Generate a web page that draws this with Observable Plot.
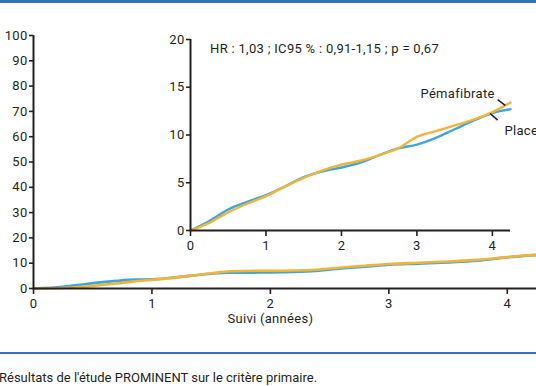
<!DOCTYPE html>
<html>
<head>
<meta charset="utf-8">
<script src="https://cdn.jsdelivr.net/npm/d3@7"></script>
<script src="https://cdn.jsdelivr.net/npm/@observablehq/plot@0.6"></script>
<style>
  html, body { margin: 0; padding: 0; background: #fff; }
  body { width: 536px; height: 386px; overflow: hidden; position: relative; font-family: Roboto, "DejaVu Sans", sans-serif; color: #231f20; }
  .rule { position: absolute; left: 0; width: 536px; height: 2px; background: #3470b8; }
  #main, #inset { position: absolute; left: 0; top: 0; }
  #caption { position: absolute; left: -1px; top: 370px; font-size: 13px; white-space: nowrap; }
</style>
</head>
<body>
<div class="rule" style="top:0px;height:3px"></div>
<div id="main"></div>
<div id="inset"></div>
<div class="rule" style="top:352px"></div>
<div id="caption">Résultats de l'étude PROMINENT sur le critère primaire.</div>
<script>
// Main chart (0–100 %)
const mainYears   = [0, 0.25, 0.45, 0.7, 0.85, 1.0, 1.3, 1.5, 1.66, 1.9, 2.1, 2.35, 2.6, 2.8, 3.0, 3.25, 3.5, 3.75, 4.0, 4.24, 4.4];
const mainPlacebo = [0, 0.7, 1.8, 3.0, 3.5, 3.6, 4.9, 5.8, 6.2, 6.3, 6.4, 6.8, 7.9, 8.6, 9.4, 9.8, 10.3, 11.0, 12.3, 13.2, 13.4];
const mainPema    = [0, 0.2, 0.8, 2.0, 2.8, 3.4, 4.9, 6.0, 6.8, 7.0, 7.0, 7.3, 8.3, 9.0, 9.7, 10.2, 10.7, 11.3, 12.4, 13.3, 13.5];
const mainYTicks  = [0, 10, 20, 30, 40, 50, 60, 70, 80, 90, 100];
const mainXTicks  = [0, 1, 2, 3, 4];

// Inset (0–20 %)
const insetYears   = [0, 0.25, 0.5, 0.75, 1.0, 1.25, 1.5, 1.75, 2.0, 2.25, 2.5, 2.75, 3.0, 3.25, 3.5, 3.75, 4.0, 4.24];
const insetPlacebo = [0, 1.0, 2.2, 3.0, 3.7, 4.6, 5.6, 6.2, 6.6, 7.1, 7.9, 8.6, 9.0, 9.7, 10.6, 11.5, 12.3, 12.7];
const insetPema    = [0, 0.8, 1.9, 2.8, 3.6, 4.6, 5.5, 6.3, 6.9, 7.3, 7.9, 8.6, 9.8, 10.4, 11.0, 11.6, 12.4, 13.4];
const insetYTicks  = [0, 5, 10, 15, 20];
const insetXTicks  = [0, 1, 2, 3, 4];

const statsText = "HR : 1,03 ; IC95 % : 0,91-1,15 ; p = 0,67";
const xLabel = "Suivi (années)";
const seriesNames = ["Placebo", "Pémafibrate"];

const BLUE = "#3fa6dc", YELLOW = "#f1b43a", INK = "#231f20";
const FONT = "Roboto, 'DejaVu Sans', sans-serif";

const mainData = mainYears.flatMap((t, i) => [
  {t, v: mainPlacebo[i], s: seriesNames[0]},
  {t, v: mainPema[i], s: seriesNames[1]}
]);
const insetData = insetYears.flatMap((t, i) => [
  {t, v: insetPlacebo[i], s: seriesNames[0]},
  {t, v: insetPema[i], s: seriesNames[1]}
]);

const colorScale = {domain: seriesNames, range: [BLUE, YELLOW]};
const baseStyle = {background: "transparent", maxWidth: "none", fontFamily: FONT, fontSize: "13px", color: INK, overflow: "visible", letterSpacing: "0.3px"};

const main = Plot.plot({
  width: 566, height: 340,
  marginLeft: 33, marginRight: 0, marginTop: 35, marginBottom: 52,
  style: baseStyle,
  x: {domain: [0, 4.5]},
  y: {domain: [0, 100]},
  color: colorScale,
  marks: [
    Plot.line(mainData, {x: "t", y: "v", stroke: "s", z: "s", strokeWidth: 2.6, curve: "monotone-x"}),
    Plot.ruleY([0], {stroke: INK, strokeWidth: 2}),
    Plot.ruleX([0], {y1: 0, y2: 100, stroke: INK, strokeWidth: 2}),
    Plot.axisY({ticks: mainYTicks, tickFormat: "d", tickSize: 4, tickPadding: 2, strokeWidth: 1.6, label: null, fill: INK}),
    Plot.axisX({ticks: mainXTicks, tickFormat: "d", tickSize: 6, tickPadding: 4, strokeWidth: 1.6, label: null, fill: INK}),
    Plot.text([xLabel], {x: 2.0, frameAnchor: "bottom", dy: 34, fill: INK, fontSize: 13})
  ]
});
document.getElementById("main").appendChild(main);

const inset = Plot.plot({
  width: 536, height: 262,
  marginLeft: 190, marginRight: 26, marginTop: 39, marginBottom: 32,
  style: baseStyle,
  x: {domain: [0, 4.24]},
  y: {domain: [0, 20]},
  color: colorScale,
  marks: [
    Plot.line(insetData, {x: "t", y: "v", stroke: "s", z: "s", strokeWidth: 2.4, curve: "monotone-x"}),
    Plot.ruleY([0], {stroke: INK, strokeWidth: 2}),
    Plot.ruleX([0], {y1: 0, y2: 20, stroke: INK, strokeWidth: 2}),
    Plot.axisY({ticks: insetYTicks, tickFormat: "d", tickSize: 4, tickPadding: 2, strokeWidth: 1.6, label: null, fill: INK}),
    Plot.axisX({ticks: insetXTicks, tickFormat: "d", tickSize: 6, tickPadding: 4, strokeWidth: 1.6, label: null, fill: INK}),
    Plot.text([statsText], {x: 0.26, y: 19.0, textAnchor: "start", fill: INK, fontSize: 13}),
    Plot.text([seriesNames[1]], {x: 4.03, y: 14.35, textAnchor: "end", fill: INK, fontSize: 13}),
    Plot.text([seriesNames[0]], {x: 4.16, y: 10.4, textAnchor: "start", fill: INK, fontSize: 13}),
    Plot.link([0], {x1: 4.07, y1: 13.7, x2: 4.17, y2: 13.1, stroke: INK, strokeWidth: 1.6}),
    Plot.link([0], {x1: 3.97, y1: 12.25, x2: 4.07, y2: 11.55, stroke: INK, strokeWidth: 1.6})
  ]
});
document.getElementById("inset").appendChild(inset);
</script>
</body>
</html>
